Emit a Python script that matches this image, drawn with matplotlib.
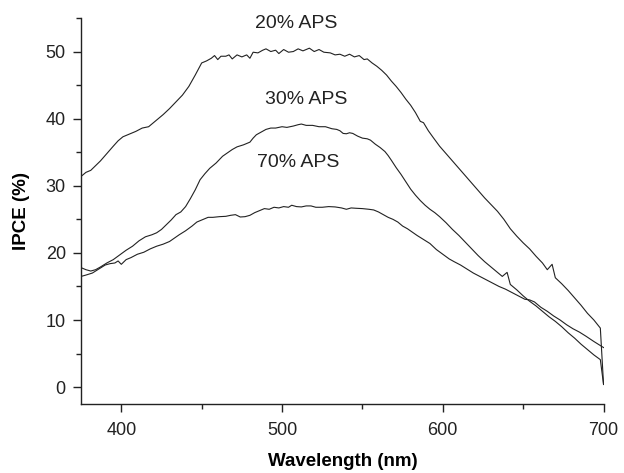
import matplotlib
matplotlib.use("Agg")
import matplotlib.pyplot as plt
from matplotlib.ticker import MultipleLocator

plt.rcParams['font.family'] = ['Liberation Sans', 'DejaVu Sans']

# 20% APS
wl_20 = [375, 378, 381, 384, 387, 391, 395, 398, 401, 405, 409, 413, 417, 422, 426, 430,
         434, 438, 442, 446, 450, 453, 456, 458, 460, 462, 465, 467, 469, 472, 475, 478,
         480, 482, 485, 488, 490, 493, 496, 498, 501, 504, 507, 510, 513, 517, 520, 523,
         526, 530, 533, 536, 539, 542, 545, 548, 551, 553, 556, 559, 562, 565, 568, 571,
         574, 577, 580, 583, 586, 588, 591, 594, 598, 602, 606, 610, 614, 618, 622, 626,
         630, 634, 638, 642, 646, 650, 654, 658, 662, 665, 668, 670, 674, 678, 682, 686,
         690, 694, 698, 700]
ipce_20 = [31.4, 32.0, 32.3, 33.0, 33.7, 34.8, 35.9, 36.7, 37.3, 37.7, 38.1, 38.6, 38.8,
           39.8, 40.6, 41.5, 42.5, 43.5, 44.8, 46.5, 48.3, 48.6, 49.0, 49.4, 48.8, 49.3,
           49.3, 49.5, 48.9, 49.5, 49.2, 49.5, 49.0, 49.9, 49.8, 50.2, 50.4, 50.0, 50.2,
           49.7, 50.3, 49.9, 50.0, 50.4, 50.1, 50.5, 50.0, 50.3, 49.9, 49.8, 49.5, 49.6,
           49.3, 49.6, 49.2, 49.4, 48.8, 48.9, 48.3, 47.8, 47.2, 46.5, 45.6, 44.8, 43.9,
           42.9, 42.0, 40.9, 39.6, 39.4, 38.2, 37.2, 35.9, 34.8, 33.7, 32.6, 31.5, 30.4,
           29.3, 28.2, 27.2, 26.2, 25.0, 23.6, 22.5, 21.5, 20.6, 19.5, 18.5, 17.5, 18.3,
           16.3, 15.4, 14.4, 13.3, 12.2, 11.0, 10.0, 8.8, 0.4]

# 30% APS
wl_30 = [375, 378, 381, 384, 387, 391, 395, 399, 403, 407, 411, 415, 419, 422, 425, 428,
         431, 434, 437, 440, 443, 446, 449, 452, 455, 459, 463, 466, 469, 472, 476, 480,
         482, 484, 487, 490, 493, 496, 500, 503, 507, 510, 512, 515, 519, 523, 527, 531,
         534, 536, 538, 540, 542, 544, 547, 550, 553, 555, 558, 561, 564, 566, 568, 571,
         574, 577, 580, 583, 586, 589, 592, 595, 598, 602, 606, 610, 614, 618, 622, 626,
         630, 634, 637, 640, 642, 646, 650, 654, 658, 662, 666, 670, 674, 678, 682, 686,
         690, 694, 698, 700]
ipce_30 = [17.8, 17.5, 17.3, 17.5, 17.9, 18.5, 19.0, 19.7, 20.4, 21.0, 21.8, 22.4, 22.7,
           23.0, 23.5, 24.2, 24.9, 25.7, 26.1, 26.9, 28.1, 29.4, 30.9, 31.8, 32.6, 33.4,
           34.4, 34.9, 35.4, 35.8, 36.1, 36.5, 37.1, 37.6, 38.0, 38.4, 38.6, 38.6, 38.8,
           38.7, 38.9, 39.1, 39.2, 39.0, 39.0, 38.8, 38.8, 38.5, 38.4, 38.2, 37.8, 37.75,
           37.9, 37.8, 37.4, 37.1, 37.0, 36.8, 36.2, 35.7, 35.1, 34.5, 33.8, 32.7, 31.7,
           30.6, 29.5, 28.6, 27.8, 27.1, 26.5, 26.0, 25.4, 24.5, 23.5, 22.6, 21.6, 20.6,
           19.6, 18.7, 17.9, 17.1, 16.5, 17.1, 15.3, 14.5, 13.6, 12.8, 12.1, 11.3, 10.5,
           9.8, 9.0, 8.1, 7.3, 6.4, 5.6, 4.8, 4.1, 0.4]

# 70% APS
wl_70 = [375, 378, 382, 386, 390, 393, 396, 398, 400, 403, 406, 410, 414, 418, 422, 426,
         430, 433, 436, 440, 444, 447, 451, 454, 457, 461, 465, 468, 471, 474, 477, 480,
         483, 486, 489, 492, 495, 498, 501, 504, 506, 509, 512, 515, 518, 521, 525, 529,
         533, 537, 540, 543, 546, 550, 554, 557, 560, 563, 566, 569, 572, 575, 578, 581,
         584, 588, 592, 596, 600, 604, 607, 611, 615, 619, 623, 627, 631, 635, 639, 643,
         647, 651, 654, 657, 661, 665, 669, 673, 677, 681, 685, 689, 694, 698, 700]
ipce_70 = [16.5, 16.7, 17.0, 17.6, 18.2, 18.4, 18.5, 18.8, 18.3, 19.0, 19.3, 19.8, 20.1,
           20.6, 21.0, 21.3, 21.7, 22.2, 22.7, 23.3, 24.0, 24.6, 25.0, 25.3, 25.3, 25.4,
           25.45, 25.6, 25.7, 25.35, 25.4, 25.6, 26.0, 26.3, 26.6, 26.5, 26.8, 26.7, 26.9,
           26.8, 27.1, 26.9, 26.85, 27.0, 27.0, 26.8, 26.8, 26.9, 26.85, 26.7, 26.5, 26.7,
           26.65, 26.6, 26.5, 26.4, 26.1, 25.7, 25.3, 25.0, 24.6, 24.0, 23.6, 23.1, 22.6,
           22.0, 21.4, 20.5, 19.8, 19.1, 18.7, 18.2, 17.6, 17.0, 16.5, 16.0, 15.5, 15.0,
           14.6, 14.1, 13.6, 13.1, 13.0, 12.7, 11.9, 11.3, 10.6, 10.0, 9.3, 8.7, 8.2, 7.6,
           6.8, 6.2, 5.9]

labels = ['20% APS', '30% APS', '70% APS']

fig = plt.figure(figsize=(6.24, 4.73), dpi=100)
ax = fig.add_axes([0.130, 0.146, 0.838, 0.816])

line_color = '#222222'
ax.plot(wl_20, ipce_20, color=line_color, lw=0.8)
ax.plot(wl_30, ipce_30, color=line_color, lw=0.8)
ax.plot(wl_70, ipce_70, color=line_color, lw=0.8)

ax.text(509, 54.2, labels[0], ha='center', va='center', fontsize=14, color='#222222')
ax.text(515, 42.8, labels[1], ha='center', va='center', fontsize=14, color='#222222')
ax.text(510, 33.4, labels[2], ha='center', va='center', fontsize=14, color='#222222')

ax.set_xlim(375, 700.3)
ax.set_ylim(-2.5, 55)
ax.xaxis.set_major_locator(MultipleLocator(100))
ax.xaxis.set_minor_locator(MultipleLocator(50))
ax.yaxis.set_major_locator(MultipleLocator(10))
ax.yaxis.set_minor_locator(MultipleLocator(5))

for side in ['top', 'right']:
    ax.spines[side].set_visible(False)
for side in ['left', 'bottom']:
    ax.spines[side].set_linewidth(1.0)
    ax.spines[side].set_color('#222222')

ax.tick_params(which='major', direction='out', length=6, width=1.0,
               labelsize=13, colors='#222222')
ax.tick_params(which='minor', direction='out', length=3.5, width=1.0, colors='#222222')
ax.tick_params(axis='x', which='major', pad=7)
ax.tick_params(axis='y', which='major', pad=5)

ax.set_xlabel('Wavelength (nm)', fontsize=13.5, fontweight='bold', labelpad=10)
ax.set_ylabel('IPCE (%)', fontsize=13.5, fontweight='bold', labelpad=11)

fig.savefig('out.png', dpi=100)
